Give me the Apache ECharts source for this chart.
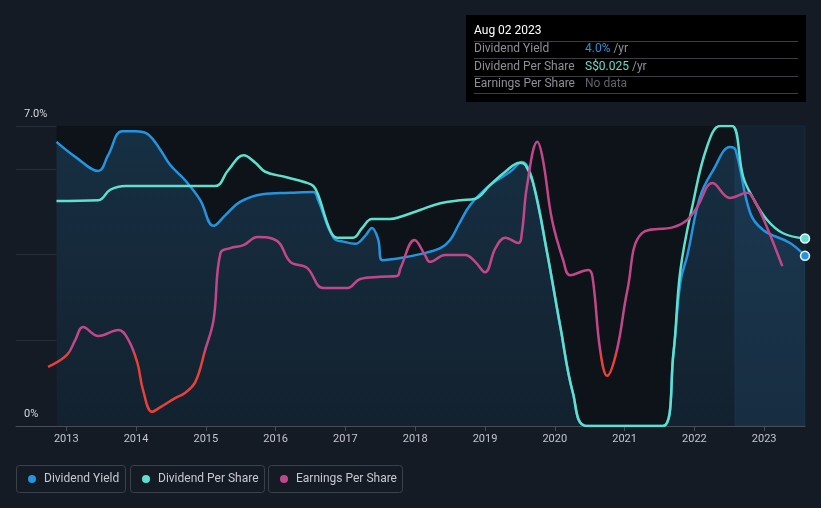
<!DOCTYPE html>
<html>
<head>
<meta charset="utf-8">
<script src="https://cdn.jsdelivr.net/npm/echarts@6/dist/echarts.min.js"></script>
<style>
html,body{margin:0;padding:0;background:#151b25;}
#c{width:821px;height:508px;}
</style>
</head>
<body>
<div id="c"></div>
<script>
// ---- data (x = decimal year) ----
var yearTicks = [2013, 2014, 2015, 2016, 2017, 2018, 2019, 2020, 2021, 2022, 2023];
var xStart = 2012.28;
var xEnd = 2023.585;
var pastStart = 2022.58;

// Dividend yield, %
var dividendYield = [
  [2012.86,6.63],[2013.13,6.28],[2013.46,5.95],[2013.60,6.32],[2013.80,6.88],[2013.99,6.88],
  [2014.17,6.81],[2014.35,6.44],[2014.49,6.09],[2014.70,5.74],[2014.92,5.27],[2015.11,4.67],
  [2015.28,4.92],[2015.49,5.23],[2015.81,5.41],[2016.21,5.44],[2016.54,5.46],[2016.61,5.27],
  [2016.83,4.39],[2017.00,4.29],[2017.14,4.25],[2017.28,4.43],[2017.38,4.62],[2017.47,4.35],
  [2017.53,3.87],[2017.79,3.92],[2018.07,4.01],[2018.36,4.15],[2018.50,4.34],[2018.62,4.69],
  [2018.79,5.16],[2019.07,5.62],[2019.36,5.93],[2019.53,6.16],[2019.69,5.67],[2019.89,4.04],
  [2020.08,2.31],[2020.26,0.77],[2020.46,0],[2021.55,0],[2021.70,1.70],[2021.80,3.36],
  [2021.90,3.99],[2022.08,5.34],[2022.27,5.97],[2022.51,6.51],[2022.59,6.44],[2022.80,4.97],
  [2022.99,4.57],[2023.37,4.27],[2023.585,3.97]
];

// Dividend per share, S$
var dividendPerShare = [
  [2012.86,0.0300],[2013.46,0.0301],[2013.63,0.0315],[2013.85,0.0320],[2015.13,0.0320],
  [2015.32,0.0341],[2015.54,0.0361],[2015.71,0.0351],[2015.85,0.0339],[2016.14,0.0332],
  [2016.42,0.0325],[2016.54,0.0320],[2016.61,0.0308],[2016.78,0.0261],[2016.88,0.0251],
  [2017.11,0.0251],[2017.24,0.0264],[2017.38,0.0276],[2017.64,0.0276],[2017.79,0.0279],
  [2018.07,0.0288],[2018.36,0.0297],[2018.65,0.0301],[2018.86,0.0303],[2019.07,0.0321],
  [2019.29,0.0339],[2019.50,0.0351],[2019.58,0.0348],[2019.69,0.0324],[2019.89,0.0231],
  [2020.08,0.0132],[2020.26,0.0044],[2020.46,0],[2021.55,0],[2021.70,0.0097],
  [2021.80,0.0208],[2021.98,0.0297],[2022.18,0.0372],[2022.37,0.0400],[2022.54,0.0400],
  [2022.70,0.0332],[2022.84,0.0304],[2023.04,0.0275],[2023.27,0.0257],[2023.585,0.0250]
];

// Earnings per share, S$
var earningsPerShare = [
  [2012.74,0.0138],[2013.01,0.0166],[2013.13,0.0201],[2013.24,0.0231],[2013.46,0.0210],
  [2013.75,0.0224],[2013.89,0.0201],[2014.02,0.0147],[2014.10,0.0084],[2014.23,0.0033],
  [2014.35,0.0044],[2014.56,0.0065],[2014.70,0.0077],[2014.85,0.0103],[2014.99,0.0177],
  [2015.11,0.0247],[2015.21,0.0404],[2015.35,0.0415],[2015.54,0.0422],[2015.74,0.0441],
  [2016.02,0.0432],[2016.21,0.0383],[2016.45,0.0369],[2016.68,0.0322],[2017.03,0.0322],
  [2017.21,0.0343],[2017.50,0.0348],[2017.74,0.0350],[2017.79,0.0369],[2017.99,0.0434],
  [2018.14,0.0399],[2018.21,0.0383],[2018.43,0.0399],[2018.72,0.0399],[2018.86,0.0383],
  [2019.00,0.0359],[2019.15,0.0415],[2019.29,0.0439],[2019.48,0.0427],[2019.53,0.0453],
  [2019.60,0.0558],[2019.75,0.0663],[2019.83,0.0621],[2019.96,0.0481],[2020.12,0.0387],
  [2020.22,0.0352],[2020.48,0.0364],[2020.54,0.0348],[2020.65,0.0177],[2020.75,0.0117],
  [2020.89,0.0177],[2021.04,0.0317],[2021.25,0.0450],[2021.70,0.0464],[2021.90,0.0481],
  [2022.04,0.0511],[2022.26,0.0567],[2022.51,0.0532],[2022.76,0.0544],[2022.87,0.0523],
  [2023.04,0.0464],[2023.26,0.0373]
];
var epsRedBelow = 0.0175;

var tooltipDate = "Aug 02 2023";
var tooltipRows = [
  {label: "Dividend Yield", value: "4.0%", unit: " /yr", color: "#2394df"},
  {label: "Dividend Per Share", value: "S$0.025", unit: " /yr", color: "#5fe0cd"},
  {label: "Earnings Per Share", value: "No data", unit: "", color: "#5f636a"}
];
var legendItems = [
  {name: "Dividend Yield", color: "#2394df"},
  {name: "Dividend Per Share", color: "#5fe0cd"},
  {name: "Earnings Per Share", color: "#c2478a"}
];

// ---- chart ----
var chart = echarts.init(document.getElementById('c'), null, {renderer: 'canvas'});

var graphics = [];
var tx = 466, ty = 15;
graphics.push({type: 'rect', shape: {x: tx, y: ty, width: 340, height: 87}, style: {fill: '#000000'}, z: 100});
graphics.push({type: 'text', x: tx + 8, y: ty + 16, style: {text: tooltipDate, fill: '#ffffff', font: '12px Roboto', textVerticalAlign: 'middle'}, z: 101});
[41, 58, 76, 93].forEach(function (ly) {
  graphics.push({type: 'line', shape: {x1: tx + 8, y1: ly + 0.5, x2: tx + 332, y2: ly + 0.5}, style: {stroke: '#3a3d42', lineWidth: 1}, z: 101});
});
tooltipRows.forEach(function (r, i) {
  var yy = 49 + i * 17.5;
  graphics.push({type: 'text', x: tx + 8, y: yy, style: {text: r.label, fill: '#8c9096', font: '12px Roboto', textVerticalAlign: 'middle'}, z: 101});
  graphics.push({type: 'text', x: 585, y: yy, style: {
    text: '{v|' + r.value + '}{u|' + r.unit + '}',
    rich: {v: {fill: r.color, font: '12px Roboto'}, u: {fill: '#8c9096', font: '12px Roboto'}},
    textVerticalAlign: 'middle'}, z: 101});
});
var lx = [16, 130, 268], lw = [109, 134, 134];
legendItems.forEach(function (it, i) {
  graphics.push({type: 'rect', shape: {x: lx[i] + 0.5, y: 465.5, width: lw[i], height: 27, r: 3},
    style: {fill: 'transparent', stroke: '#3b414b', lineWidth: 1}});
  graphics.push({type: 'circle', shape: {cx: lx[i] + 16, cy: 479, r: 4}, style: {fill: it.color}});
  graphics.push({type: 'text', x: lx[i] + 28, y: 479, style: {text: it.name, fill: '#c6c9ce', font: '12px Roboto', textVerticalAlign: 'middle'}});
});

function endDot(arr, color) {
  var p = arr[arr.length - 1];
  return {symbol: 'circle', symbolSize: 9, silent: true,
    itemStyle: {color: color, borderColor: '#e8f4ff', borderWidth: 1.5},
    label: {show: false},
    data: [{coord: p}]};
}

chart.setOption({
  backgroundColor: '#151b25',
  animation: false,
  grid: {left: 16, right: 16, top: 126, bottom: 82, containLabel: false},
  xAxis: {
    type: 'value', min: xStart, max: xEnd,
    axisLine: {show: true, lineStyle: {color: '#474c55', width: 1}},
    axisTick: {show: true, customValues: yearTicks, length: 5, lineStyle: {color: '#474c55'}},
    axisLabel: {customValues: yearTicks, color: '#c3c6cb', fontFamily: 'Roboto', fontSize: 11, margin: 8,
      formatter: function (v) { return String(Math.round(v)); }},
    splitLine: {show: false}
  },
  yAxis: [
    {type: 'value', min: 0, max: 7, interval: 2,
      axisLine: {show: false}, axisTick: {show: false},
      axisLabel: {inside: true, margin: 8, color: '#d6d8dc', fontFamily: 'Roboto', fontSize: 11,
        verticalAlign: 'bottom', padding: [0, 0, 6, 0],
        formatter: function (v) { if (v === 7) return '7.0%'; if (v === 0) return '0%'; return ''; }},
      splitLine: {show: true, lineStyle: {color: '#272d36', width: 1}}
    },
    {type: 'value', min: 0, max: 0.04, show: false, splitLine: {show: false}},
    {type: 'value', min: 0, max: 0.07, show: false, splitLine: {show: false}}
  ],
  series: [
    {
      name: 'Dividend Yield', type: 'line', yAxisIndex: 0, z: 3,
      data: dividendYield, showSymbol: false, symbol: 'none', smooth: 0.4,
      lineStyle: {color: '#2394df', width: 2.5},
      itemStyle: {color: '#2394df'},
      areaStyle: {color: new echarts.graphic.LinearGradient(0, 0, 0, 1, [
        {offset: 0, color: 'rgba(38,98,140,0.52)'},
        {offset: 1, color: 'rgba(38,98,140,0.27)'}
      ])},
      markArea: {silent: true, data: [
        [{xAxis: dividendYield[0][0], itemStyle: {color: '#0e1219'}}, {xAxis: xEnd}],
        [{xAxis: pastStart, itemStyle: {color: 'rgba(45,95,140,0.2)',
            borderColor: 'rgba(70,110,150,0.25)', borderWidth: 0.5},
          label: {show: true, position: 'insideTopRight', formatter: 'Past', color: '#e6e8eb', fontFamily: 'Roboto', fontSize: 11, distance: [8, 7]}},
         {xAxis: xEnd}]
      ]},
      markPoint: endDot(dividendYield, '#2394df')
    },
    {
      name: 'Dividend Per Share', type: 'line', yAxisIndex: 1, z: 4,
      data: dividendPerShare, showSymbol: false, symbol: 'none', smooth: 0.4,
      lineStyle: {color: '#5fe0cd', width: 2.5},
      itemStyle: {color: '#5fe0cd'},
      markPoint: endDot(dividendPerShare, '#5fe0cd')
    },
    {
      name: 'Earnings Per Share', type: 'line', yAxisIndex: 2, z: 5,
      data: earningsPerShare, showSymbol: false, symbol: 'none', smooth: 0.4,
      lineStyle: {width: 2.5, color: '#c2478a'}
    }
  ],
  graphic: graphics
});

// colour the EPS line red below the threshold, using the axis' own scale
var yTh = chart.convertToPixel({yAxisIndex: 2}, epsRedBelow);
var yTop = chart.convertToPixel({yAxisIndex: 2}, 0.07);
var yBot = chart.convertToPixel({yAxisIndex: 2}, 0);
var off = (yTh - yTop) / (yBot - yTop);
chart.setOption({series: [{}, {}, {
  lineStyle: {color: new echarts.graphic.LinearGradient(0, yTop, 0, yBot, [
    {offset: 0, color: '#c2478a'}, {offset: off, color: '#c2478a'},
    {offset: off, color: '#e8413a'}, {offset: 1, color: '#e8413a'}
  ], true)}
}]});
</script>
</body>
</html>
